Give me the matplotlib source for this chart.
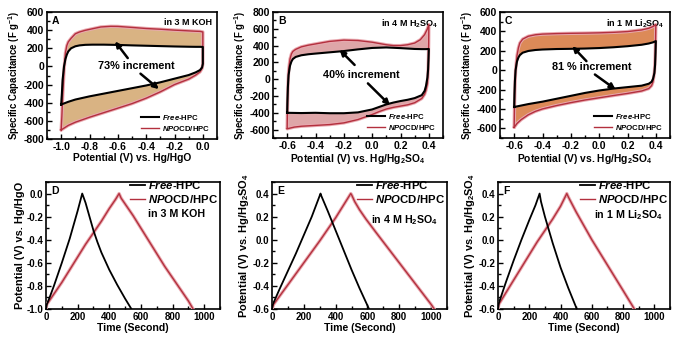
import numpy as np
import matplotlib
matplotlib.use("Agg")
import matplotlib.pyplot as plt
from matplotlib.ticker import MultipleLocator, AutoMinorLocator

plt.rcParams["font.family"] = ["Liberation Sans", "DejaVu Sans"]
plt.rcParams["font.weight"] = "bold"
plt.rcParams["axes.labelweight"] = "bold"
plt.rcParams["axes.unicode_minus"] = False
plt.rcParams["mathtext.fontset"] = "custom"
plt.rcParams["mathtext.rm"] = "Liberation Sans:bold"
plt.rcParams["mathtext.bf"] = "Liberation Sans:bold"
plt.rcParams["mathtext.it"] = "Liberation Sans:italic:bold"

RED = "#b3303e"
HALO = "#e9a9b0"

# ---------------- CV data (potential in V, capacitance in F/g) ----------------
# 3 M KOH
cv_a_free_up_x = [-1.0, -0.995, -0.99, -0.98, -0.97, -0.96, -0.95, -0.93, -0.9, -0.87, -0.83, -0.78,
                  -0.7, -0.6, -0.5, -0.4, -0.3, -0.2, -0.1, -0.05, -0.02, 0.0]
cv_a_free_up_y = [-420, -300, -150, 0, 80, 130, 165, 200, 222, 232, 238, 240,
                  240, 237, 232, 228, 224, 220, 217, 216, 216, 215]
cv_a_free_dn_x = [0.0, -0.005, -0.02, -0.05, -0.1, -0.15, -0.2, -0.3, -0.4, -0.5, -0.6, -0.7,
                  -0.8, -0.9, -0.95, -1.0]
cv_a_free_dn_y = [30, -10, -40, -65, -95, -115, -135, -175, -210, -240, -270, -300,
                  -330, -365, -390, -420]
cv_a_npo_up_x = [-1.0, -0.995, -0.99, -0.98, -0.97, -0.96, -0.95, -0.93, -0.9, -0.87, -0.83, -0.78,
                 -0.72, -0.65, -0.6, -0.5, -0.4, -0.3, -0.2, -0.1, -0.05, -0.02, 0.0]
cv_a_npo_up_y = [-700, -550, -350, -50, 150, 230, 270, 310, 360, 380, 398, 415,
                 435, 442, 441, 430, 418, 410, 400, 392, 388, 386, 380]
cv_a_npo_dn_x = [0.0, -0.005, -0.02, -0.05, -0.1, -0.15, -0.2, -0.3, -0.4, -0.5, -0.6, -0.7,
                 -0.8, -0.9, -0.95, -0.98, -1.0]
cv_a_npo_dn_y = [30, -20, -60, -95, -140, -170, -200, -280, -350, -410, -460, -510,
                 -560, -615, -650, -680, -700]

# 4 M H2SO4
cv_b_free_up_x = [-0.6, -0.598, -0.595, -0.59, -0.58, -0.57, -0.56, -0.54, -0.5, -0.45, -0.4, -0.3,
                  -0.2, -0.1, 0.0, 0.1, 0.2, 0.3, 0.35, 0.38, 0.4]
cv_b_free_up_y = [-400, -250, -100, 50, 160, 210, 240, 265, 285, 297, 305, 320,
                  335, 355, 372, 378, 370, 360, 358, 358, 360]
cv_b_free_dn_x = [0.4, 0.398, 0.395, 0.39, 0.38, 0.37, 0.35, 0.3, 0.25, 0.2, 0.15, 0.1,
                  0.05, 0.0, -0.1, -0.2, -0.3, -0.4, -0.5, -0.6]
cv_b_free_dn_y = [360, 250, 120, 20, -80, -140, -190, -225, -245, -260, -278, -300,
                  -330, -360, -395, -405, -405, -400, -403, -400]
cv_b_npo_up_x = [-0.6, -0.598, -0.595, -0.59, -0.58, -0.57, -0.56, -0.54, -0.5, -0.45, -0.4, -0.3,
                 -0.2, -0.1, 0.0, 0.1, 0.15, 0.2, 0.25, 0.3, 0.34, 0.37, 0.39, 0.4]
cv_b_npo_up_y = [-580, -350, -100, 100, 240, 300, 330, 355, 385, 405, 420, 450,
                 465, 460, 440, 410, 400, 400, 410, 430, 470, 530, 600, 650]
cv_b_npo_dn_x = [0.4, 0.399, 0.397, 0.395, 0.39, 0.38, 0.37, 0.35, 0.3, 0.25, 0.2, 0.15,
                 0.1, 0.05, 0.0, -0.1, -0.2, -0.3, -0.4, -0.5, -0.55, -0.6]
cv_b_npo_dn_y = [650, 450, 250, 100, -50, -130, -180, -230, -280, -305, -320, -335,
                 -355, -385, -420, -480, -520, -540, -550, -560, -570, -590]

# 1 M Li2SO4
cv_c_free_up_x = [-0.6, -0.598, -0.595, -0.59, -0.58, -0.57, -0.56, -0.54, -0.5, -0.45, -0.4, -0.3,
                  -0.2, -0.1, 0.0, 0.1, 0.2, 0.3, 0.35, 0.38, 0.4]
cv_c_free_up_y = [-380, -250, -120, 0, 90, 130, 155, 180, 198, 208, 213, 218,
                  220, 223, 228, 236, 247, 262, 275, 287, 300]
cv_c_free_dn_x = [0.4, 0.398, 0.395, 0.39, 0.38, 0.37, 0.35, 0.3, 0.2, 0.1, 0.0, -0.1,
                  -0.2, -0.3, -0.4, -0.5, -0.55, -0.6]
cv_c_free_dn_y = [300, 180, 60, -30, -90, -120, -140, -160, -175, -190, -210, -235,
                  -265, -295, -325, -350, -365, -380]
cv_c_npo_up_x = [-0.6, -0.598, -0.595, -0.59, -0.58, -0.57, -0.56, -0.54, -0.5, -0.45, -0.4, -0.3,
                 -0.2, -0.1, 0.0, 0.1, 0.2, 0.3, 0.35, 0.38, 0.4]
cv_c_npo_up_y = [-590, -400, -200, 0, 150, 230, 280, 320, 350, 365, 372, 377,
                 380, 382, 385, 390, 398, 415, 432, 450, 470]
cv_c_npo_dn_x = [0.4, 0.398, 0.395, 0.39, 0.38, 0.37, 0.35, 0.3, 0.2, 0.1, 0.0, -0.1,
                 -0.2, -0.3, -0.4, -0.45, -0.5, -0.55, -0.58, -0.6]
cv_c_npo_dn_y = [470, 300, 120, -20, -120, -160, -190, -215, -240, -262, -285, -308,
                 -335, -365, -400, -425, -460, -510, -550, -590]

# ---------------- GCD data (time in s, potential in V) ----------------
gcd_d_free_t = [0, 5, 20, 50, 100, 150, 200, 229, 250, 275, 300, 325, 350, 400, 450, 500, 540]
gcd_d_free_v = [-1.0, -0.96, -0.91, -0.80, -0.60, -0.39, -0.15, 0.0, -0.08, -0.2, -0.32, -0.42,
                -0.51, -0.66, -0.79, -0.91, -1.0]
gcd_d_npo_t = [0, 5, 20, 50, 100, 150, 200, 250, 300, 350, 400, 440, 462, 475, 500, 550, 600,
               650, 700, 750, 800, 850, 900, 930]
gcd_d_npo_v = [-1.0, -0.96, -0.93, -0.87, -0.77, -0.66, -0.55, -0.44, -0.34, -0.24, -0.13, -0.05,
               0.0, -0.04, -0.09, -0.19, -0.3, -0.41, -0.52, -0.63, -0.73, -0.83, -0.93, -1.0]

gcd_e_free_t = [0, 5, 50, 100, 150, 200, 250, 305, 310, 350, 400, 450, 500, 550, 610]
gcd_e_free_v = [-0.6, -0.56, -0.42, -0.27, -0.12, 0.04, 0.2, 0.4, 0.38, 0.25, 0.08, -0.09,
                -0.26, -0.42, -0.6]
gcd_e_npo_t = [0, 10, 100, 200, 300, 400, 495, 500, 520, 550, 590, 650, 700, 750, 800, 850,
               900, 950, 1000, 1020]
gcd_e_npo_v = [-0.6, -0.56, -0.39, -0.2, -0.01, 0.19, 0.4, 0.39, 0.33, 0.26, 0.18, 0.07, -0.02,
               -0.11, -0.2, -0.29, -0.38, -0.47, -0.56, -0.6]

gcd_f_free_t = [0, 5, 50, 100, 150, 200, 240, 266, 275, 300, 350, 400, 450, 504]
gcd_f_free_v = [-0.6, -0.55, -0.37, -0.18, 0.0, 0.17, 0.3, 0.4, 0.33, 0.2, -0.03, -0.24, -0.42, -0.6]
gcd_f_npo_t = [0, 5, 50, 100, 150, 200, 250, 300, 350, 400, 440, 450, 500, 550, 600, 650, 700,
               750, 800, 872]
gcd_f_npo_v = [-0.6, -0.56, -0.46, -0.35, -0.24, -0.13, -0.02, 0.08, 0.18, 0.29, 0.4, 0.37, 0.24,
               0.12, 0.0, -0.11, -0.22, -0.33, -0.44, -0.6]


def px_axes(fig, left, top, right, bottom):
    W, H = 680, 345
    return fig.add_axes([left / W, 1 - bottom / H, (right - left) / W, (bottom - top) / H])


def style_axes(ax, xlim, ylim, xmajor, ymajor, size):
    ax.set_xlim(*xlim)
    ax.set_ylim(*ylim)
    ax.xaxis.set_major_locator(MultipleLocator(xmajor))
    ax.yaxis.set_major_locator(MultipleLocator(ymajor))
    ax.xaxis.set_minor_locator(AutoMinorLocator(2))
    ax.yaxis.set_minor_locator(AutoMinorLocator(2))
    ax.tick_params(which="both", direction="in", labelsize=size, width=1.0, pad=2)
    ax.tick_params(which="major", length=3.5)
    ax.tick_params(which="minor", length=2)
    for s in ax.spines.values():
        s.set_linewidth(1.2)


def red_line(ax, x, y, label=None):
    ax.plot(x, y, color=HALO, lw=2.4, solid_capstyle="round", zorder=3)
    ax.plot(x, y, color=RED, lw=1.0, zorder=4, label=label)


def cv_panel(ax, free_up, free_dn, npo_up, npo_dn, fill, letter, electrolyte,
             note, note_xy, arrows, xlim, ylim, ymajor, xlabel):
    fx = np.concatenate([free_up[0], free_dn[0]])
    fy = np.concatenate([free_up[1], free_dn[1]])
    nx = np.concatenate([npo_up[0], npo_dn[0]])
    ny = np.concatenate([npo_up[1], npo_dn[1]])
    ax.fill(nx, ny, color=fill, lw=0, zorder=1)
    ax.fill(fx, fy, color="white", lw=0, zorder=2)
    red_line(ax, nx, ny, label=r"$\mathit{NPO}$CD/HPC")
    ax.plot(fx, fy, color="black", lw=1.5, zorder=5, label=r"$\mathit{Free}$-HPC")
    style_axes(ax, xlim, ylim, 0.2, ymajor, 7.5)
    ax.set_xlabel(xlabel, fontsize=7.4, labelpad=1)
    ax.set_ylabel(r"Specific Capacitance (F g$^{-1}$)", fontsize=6.9, labelpad=1)
    ax.text(0.03, 0.97, letter, transform=ax.transAxes, fontsize=7.5, va="top", ha="left")
    ax.text(0.97, 0.955, electrolyte, transform=ax.transAxes, fontsize=6.5, va="top", ha="right")
    ax.text(note_xy[0], note_xy[1], note, fontsize=7.8, ha="center", va="center", zorder=6)
    for tail, head in arrows:
        ax.annotate("", xy=head, xytext=tail, zorder=6,
                    arrowprops=dict(arrowstyle="-|>", color="black", lw=1.8,
                                    mutation_scale=8, shrinkA=0, shrinkB=0))
    h, l = ax.get_legend_handles_labels()
    ax.legend(h[::-1], l[::-1], loc="lower right", frameon=False, fontsize=5.6,
              handlelength=2.2, handletextpad=0.5, labelspacing=0.25, borderaxespad=0.4)


def gcd_panel(ax, free, npo, letter, electrolyte, note_xy, ylim, ylabel):
    ax.plot(free[0], free[1], color="black", lw=1.3, zorder=5, label=r"$\mathit{Free}$-HPC")
    red_line(ax, npo[0], npo[1], label=r"$\mathit{NPO}$CD/HPC")
    style_axes(ax, (0, 1100), ylim, 200, 0.2, 7)
    ax.set_xlabel("Time (Second)", fontsize=7.6, labelpad=1)
    ax.set_ylabel(ylabel, fontsize=7.9, labelpad=1)
    ax.text(0.03, 0.97, letter, transform=ax.transAxes, fontsize=7.5, va="top", ha="left")
    ax.legend(loc="upper right", bbox_to_anchor=(1.0, 1.045), frameon=False, fontsize=8.2,
              handlelength=1.3, handletextpad=0.25, labelspacing=0.2, borderaxespad=0,
              borderpad=0.2)
    ax.text(note_xy[0], note_xy[1], electrolyte, transform=ax.transAxes, fontsize=7.7,
            va="center", ha="right")


fig = plt.figure(figsize=(6.8, 3.45), dpi=100)

ax_a = px_axes(fig, 47, 12, 217, 139)
cv_panel(ax_a, (cv_a_free_up_x, cv_a_free_up_y), (cv_a_free_dn_x, cv_a_free_dn_y),
         (cv_a_npo_up_x, cv_a_npo_up_y), (cv_a_npo_dn_x, cv_a_npo_dn_y),
         "#d9b383", "A", "in 3 M KOH", "73% increment", (-0.47, 10),
         [((-0.53, 92), (-0.62, 276)), ((-0.44, -80), (-0.31, -250))],
         (-1.1, 0.1), (-800, 600), 200, "Potential (V) vs. Hg/HgO")

ax_b = px_axes(fig, 273, 12, 443, 138)
cv_panel(ax_b, (cv_b_free_up_x, cv_b_free_up_y), (cv_b_free_dn_x, cv_b_free_dn_y),
         (cv_b_npo_up_x, cv_b_npo_up_y), (cv_b_npo_dn_x, cv_b_npo_dn_y),
         "#dea6a8", "B", r"in 4 M H$_{2}$SO$_{4}$", "40% increment", (-0.076, 50),
         [((-0.124, 170), (-0.23, 350)), ((-0.03, -50), (0.126, -310))],
         (-0.7, 0.5), (-700, 800), 200, r"Potential (V) vs. Hg/Hg$_{2}$SO$_{4}$")

ax_c = px_axes(fig, 500, 12, 670, 138)
cv_panel(ax_c, (cv_c_free_up_x, cv_c_free_up_y), (cv_c_free_dn_x, cv_c_free_dn_y),
         (cv_c_npo_up_x, cv_c_npo_up_y), (cv_c_npo_dn_x, cv_c_npo_dn_y),
         "#dc8a58", "C", r"in 1 M Li$_{2}$SO$_{4}$", "81 % increment", (-0.055, 31),
         [((-0.09, 93), (-0.19, 247)), ((-0.03, -45), (0.116, -199))],
         (-0.7, 0.5), (-700, 600), 200, r"Potential (V) vs. Hg/Hg$_{2}$SO$_{4}$")

ax_d = px_axes(fig, 46, 182, 220, 309)
gcd_panel(ax_d, (gcd_d_free_t, gcd_d_free_v), (gcd_d_npo_t, gcd_d_npo_v), "D",
          "in 3 M KOH", (0.915, 0.75), (-1.0, 0.1), "Potential (V) vs. Hg/HgO")

ax_e = px_axes(fig, 272, 182, 447, 309)
gcd_panel(ax_e, (gcd_e_free_t, gcd_e_free_v), (gcd_e_npo_t, gcd_e_npo_v), "E",
          r"in 4 M H$_{2}$SO$_{4}$", (0.95, 0.70), (-0.6, 0.5),
          r"Potential (V) vs. Hg/Hg$_{2}$SO$_{4}$")

ax_f = px_axes(fig, 498, 182, 670, 309)
gcd_panel(ax_f, (gcd_f_free_t, gcd_f_free_v), (gcd_f_npo_t, gcd_f_npo_v), "F",
          r"in 1 M Li$_{2}$SO$_{4}$", (0.96, 0.74), (-0.6, 0.5),
          r"Potential (V) vs. Hg/Hg$_{2}$SO$_{4}$")

fig.savefig("out.png", dpi=100)
